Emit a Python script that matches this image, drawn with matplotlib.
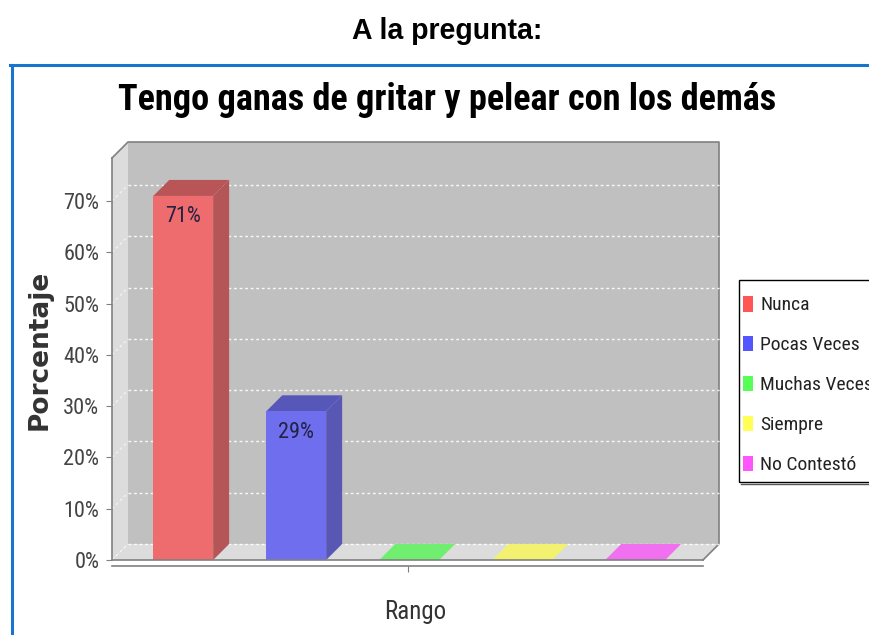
import matplotlib
matplotlib.use("Agg")
import matplotlib.pyplot as plt
from matplotlib.patches import Polygon, Rectangle, Patch
from matplotlib.lines import Line2D
from matplotlib import font_manager

categories = ["Nunca", "Pocas Veces", "Muchas Veces", "Siempre", "No Contestó"]
values = [71, 29, 0, 0, 0]
value_labels = ["71%", "29%", "", "", ""]
yticks = [0, 10, 20, 30, 40, 50, 60, 70]
ytick_labels = ["0%", "10%", "20%", "30%", "40%", "50%", "60%", "70%"]

front_colors = ["#EE6C6E", "#6E6EEE", "#70EE70", "#F2F270", "#F070F0"]
top_colors = ["#BA5557", "#5757BA", "#58BA58", "#BDBD58", "#BB58BB"]
side_colors = ["#B45658", "#5858B4", "#58B458", "#B4B458", "#B458B4"]
legend_colors = ["#FF5555", "#5555FF", "#55FF55", "#FFFF55", "#FF55FF"]

names = {f.name for f in font_manager.fontManager.ttflist}


def pick(prefs, default="DejaVu Sans"):
    for p in prefs:
        if p in names:
            return p
    return default


reg_font = pick(["Roboto Condensed", "PT Sans Narrow", "Liberation Sans Narrow",
                 "IBM Plex Sans Condensed", "Open Sans Condensed"])
bold_font = pick(["Roboto Condensed", "Liberation Sans Narrow", "PT Sans Narrow",
                  "Open Sans Condensed", "IBM Plex Sans Condensed"])

W, H = 870, 635
fig = plt.figure(figsize=(W / 100, H / 100), dpi=100)

header = fig.text(447 / W, 1 - 31 / H, "A la pregunta:", ha="center", va="center",
                  fontsize=17, fontweight="bold", family="Liberation Sans")
fig.add_artist(Line2D([10 / W, 1.0], [1 - 65 / H, 1 - 65 / H], color="#1874CD", lw=2.2))
fig.add_artist(Line2D([12 / W, 12 / W], [0, 1 - 65 / H], color="#1874CD", lw=2.2))

title = fig.text(447 / W, 1 - 100 / H, "Tengo ganas de gritar y pelear con los demás",
                 ha="center", va="center", fontsize=26, fontweight=900,
                 family=[bold_font, "DejaVu Sans"])

L, R, B, T = 112, 703, 560, 158
ax = fig.add_axes([L / W, 1 - B / H, (R - L) / W, (B - T) / H])
xmin, xmax = -0.63, 4.60
ymin, ymax = 0, 78.4
ax.set_xlim(xmin, xmax)
ax.set_ylim(ymin, ymax)
ax.set_facecolor("none")

pxx = (R - L) / (xmax - xmin)
pxy = (B - T) / (ymax - ymin)
dx = 16 / pxx
dy = 16 / pxy

wall = "#C0C0C0"
light = "#DCDCDC"
edge = "#808080"

ax.add_patch(Rectangle((xmin + dx, dy), (xmax - xmin), ymax, facecolor=wall,
                       edgecolor="none", clip_on=False, zorder=0))
ax.add_patch(Polygon([(xmin, 0), (xmin + dx, dy), (xmin + dx, ymax + dy), (xmin, ymax)],
                     closed=True, facecolor=light, edgecolor="none", clip_on=False, zorder=0))
ax.add_patch(Polygon([(xmin, 0), (xmax, 0), (xmax + dx, dy), (xmin + dx, dy)],
                     closed=True, facecolor=light, edgecolor="none", clip_on=False, zorder=0))
ax.plot([xmin, xmin + dx, xmax + dx, xmax + dx, xmax], [ymax, ymax + dy, ymax + dy, dy, 0],
        color=edge, lw=1.2, clip_on=False, zorder=1)

for t in yticks:
    ax.plot([xmin + dx, xmax + dx], [t + dy, t + dy], color="white", lw=1, ls=(0, (2, 2)),
            clip_on=False, zorder=1, alpha=0.9)
    ax.plot([xmin, xmin + dx], [t, t + dy], color="white", lw=1, ls=(0, (2, 2)),
            clip_on=False, zorder=1, alpha=0.6)

bw = 0.53
for i, (v, lab) in enumerate(zip(values, value_labels)):
    x0, x1 = i - bw / 2, i + bw / 2
    if v > 0:
        ax.add_patch(Polygon([(x1, 0), (x1 + dx, dy), (x1 + dx, v + dy), (x1, v)], closed=True,
                             facecolor=side_colors[i], edgecolor="none", clip_on=False, zorder=2))
        ax.add_patch(Polygon([(x0, v), (x1, v), (x1 + dx, v + dy), (x0 + dx, v + dy)], closed=True,
                             facecolor=top_colors[i], edgecolor="none", clip_on=False, zorder=2))
        ax.add_patch(Rectangle((x0, 0), bw, v, facecolor=front_colors[i], edgecolor="none",
                               clip_on=False, zorder=3))
        ax.text(i, v - 21 / pxy, lab, ha="center", va="center", fontsize=16,
                color="#222244", family=reg_font, zorder=4)
    else:
        ax.add_patch(Polygon([(x0, 0), (x1, 0), (x1 + dx, dy), (x0 + dx, dy)], closed=True,
                             facecolor=front_colors[i], edgecolor="none", clip_on=False, zorder=2))

for s in ["top", "right"]:
    ax.spines[s].set_visible(False)
ax.spines["left"].set_color(edge)
ax.spines["left"].set_linewidth(1.2)
ax.spines["bottom"].set_color(edge)
ax.spines["bottom"].set_linewidth(1.2)
ax.spines["bottom"].set_position(("outward", 4.5))
ax.plot([xmin, xmax], [0, 0], color=edge, lw=1.2, clip_on=False, zorder=5)

ax.set_yticks(yticks)
ax.set_yticklabels(ytick_labels)
ax.set_xticks([(xmin + xmax) / 2])
ax.set_xticklabels([""])
ax.tick_params(axis="y", length=4, color=edge, labelsize=16, labelcolor="#444444", pad=5)
ax.tick_params(axis="x", length=4, color=edge)
for t in ax.get_yticklabels():
    t.set_family(reg_font)

ax.set_xlabel("Rango", fontsize=18, color="#333333", family=reg_font)
ax.xaxis.set_label_coords((415 - L) / (R - L), -(612 - B) / (B - T))
ax.xaxis.label.set_va("center")
ax.set_ylabel("Porcentaje", fontsize=19, fontweight="bold", color="#333333",
              family="DejaVu Sans")
ax.yaxis.set_label_coords(-(L - 40) / (R - L), (B - 350) / (B - T))
ax.yaxis.label.set_va("center")

handles = [Patch(facecolor=c, edgecolor="none") for c in legend_colors]
leg = fig.legend(handles, categories, loc="upper left", bbox_to_anchor=(743 / W, 1 - 296 / H),
                 frameon=False, fontsize=14,
                 handlelength=0.5, handleheight=0.85, handletextpad=0.4, labelspacing=1.1,
                 borderpad=0, borderaxespad=0)
for t in leg.get_texts():
    t.set_color("#222222")
    t.set_family(reg_font)
fig.add_artist(Rectangle((739 / W, 1 - 482 / H), 200 / W, 202 / H, transform=fig.transFigure,
                         facecolor="none", edgecolor="black", lw=1.0))
fig.add_artist(Line2D([741 / W, 1.0], [1 - 483.5 / H, 1 - 483.5 / H], color="#555555", lw=1.0))

fig.canvas.draw()
r = fig.canvas.get_renderer()
for txt, target in [(title, 660), (header, 191)]:
    w = txt.get_window_extent(r).width
    txt.set_fontsize(txt.get_fontsize() * target / w)

fig.savefig("out.png", dpi=100)
